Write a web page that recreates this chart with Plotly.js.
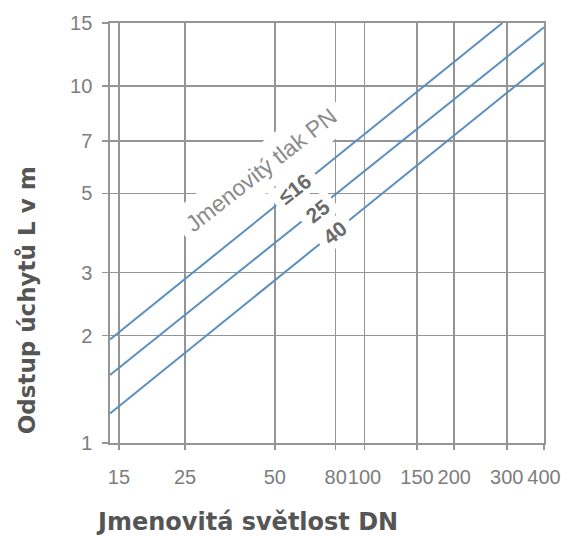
<!DOCTYPE html>
<html>
<head>
<meta charset="utf-8">
<script src="https://cdn.plot.ly/plotly-3.0.1.min.js"></script>
<style>html,body{margin:0;padding:0;background:#fff;}</style>
</head>
<body>
<div id="chart" style="width:574px;height:536px;"></div>
<script>
// Data (log-log chart)
const dnPN16 = [14, 290];
const lPN16 = [1.95, 15];
const dnPN25 = [14, 400];
const lPN25 = [1.55, 14.6];
const dnPN40 = [14, 400];
const lPN40 = [1.21, 11.6];

const xTickVals = [15, 25, 50, 80, 100, 150, 200, 300, 400];
const xTickText = ['15', '25', '50', '80', '100', '150', '200', '300', '400'];
const yTickVals = [1, 2, 3, 5, 7, 10, 15];
const yTickText = ['1', '2', '3', '5', '7', '10', '15'];

const seriesNames = ['≤16', '25', '40'];
const titleX = 'Jmenovitá světlost DN';
const titleY = 'Odstup úchytů L v m';
const pnLabel = 'Jmenovitý tlak PN';

const lineColor = '#5a8fbf';
const gridColor = '#959595';
const tickFont = {family: 'Liberation Sans, Arial, sans-serif', size: 20, color: '#7d7d7d'};

const traces = [
  {x: dnPN16, y: lPN16, name: seriesNames[0]},
  {x: dnPN25, y: lPN25, name: seriesNames[1]},
  {x: dnPN40, y: lPN40, name: seriesNames[2]}
].map(t => Object.assign(t, {type: 'scatter', mode: 'lines', line: {color: lineColor, width: 2}, hoverinfo: 'skip'}));

const numFont = {family: 'Liberation Sans, Arial, sans-serif', size: 21, color: '#6a6a6a', weight: 'bold'};
const titleFont = {family: 'DejaVu Sans, sans-serif', size: 23, color: '#555555', weight: 'bold'};

function lbl(x, y, text, extra) {
  return Object.assign({xref: 'paper', yref: 'paper', x: x, y: y, text: text, showarrow: false,
    xanchor: 'center', yanchor: 'middle'}, extra);
}

const layout = {
  width: 574, height: 536,
  margin: {l: 110, r: 30, t: 23, b: 93, pad: 0},
  paper_bgcolor: '#ffffff', plot_bgcolor: '#ffffff',
  showlegend: false,
  xaxis: {
    type: 'log',
    range: [Math.log10(14), Math.log10(400)],
    tickvals: xTickVals, ticktext: xTickText, tickangle: 0,
    showgrid: true, gridcolor: gridColor, gridwidth: 1.7,
    showline: true, linecolor: gridColor, linewidth: 1.7, mirror: true,
    ticks: 'outside', ticklen: 5, tickcolor: gridColor, tickwidth: 1.7,
    ticklabelstandoff: 10,
    tickfont: tickFont, zeroline: false
  },
  yaxis: {
    type: 'log',
    range: [0, Math.log10(15)],
    tickvals: yTickVals, ticktext: yTickText, tickangle: 0,
    showgrid: true, gridcolor: gridColor, gridwidth: 1.7,
    showline: true, linecolor: gridColor, linewidth: 1.7, mirror: true,
    ticks: 'outside', ticklen: 6, tickcolor: gridColor, tickwidth: 1.7,
    ticklabelstandoff: 6,
    tickfont: tickFont, zeroline: false
  },
  annotations: [
    lbl(0.348, 0.650, pnLabel, {textangle: -38, bgcolor: '#ffffff', borderpad: 8,
      font: {family: 'Liberation Sans, Arial, sans-serif', size: 23, color: '#8a8a8a'}}),
    lbl(0.426, 0.607, '\u00a0' + seriesNames[0] + '\u00a0', {textangle: -38, bgcolor: '#ffffff', borderpad: 1, font: numFont}),
    lbl(0.477, 0.552, '\u00a0' + seriesNames[1] + '\u00a0', {textangle: -38, bgcolor: '#ffffff', borderpad: 1, font: numFont}),
    lbl(0.518, 0.502, '\u00a0' + seriesNames[2] + '\u00a0', {textangle: -38, bgcolor: '#ffffff', borderpad: 1, font: numFont}),
    lbl(-0.191, 0.340, titleY, {textangle: -90, font: titleFont}),
    lbl(0.316, -0.188, titleX, {font: Object.assign({}, titleFont, {size: 24})})
  ]
};

Plotly.newPlot('chart', traces, layout, {displayModeBar: false, staticPlot: true});
</script>
</body>
</html>
